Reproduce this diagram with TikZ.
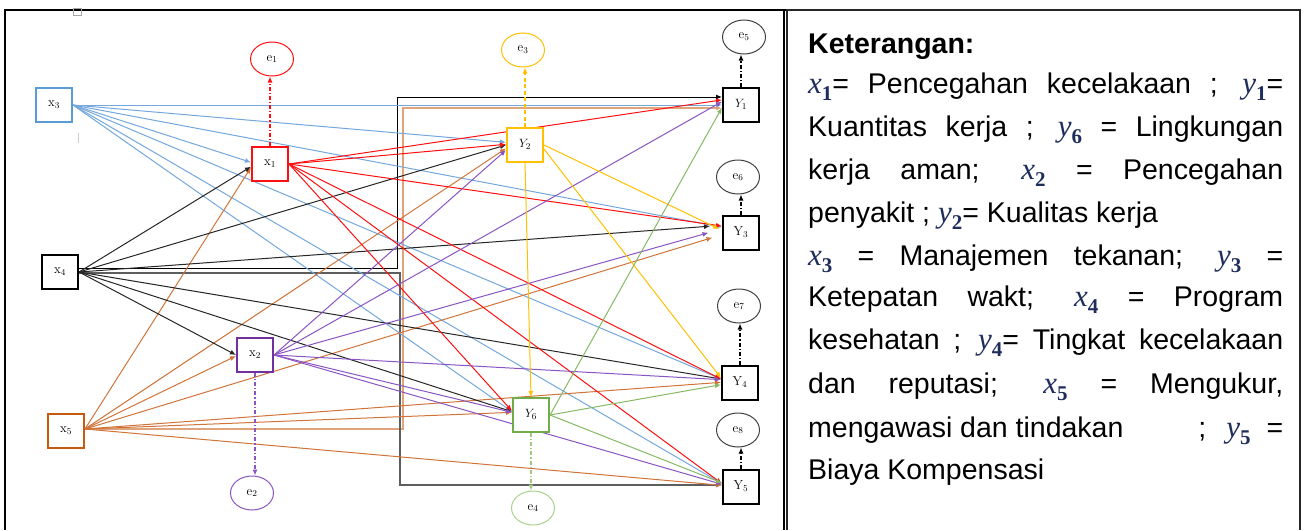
\documentclass[tikz,border=0pt]{standalone}
\usepackage{fontspec}
\newfontfamily\arialf{Liberation Sans}
\newfontfamily\serff{Liberation Serif}
\usetikzlibrary{arrows.meta,shapes.geometric}
\pgfdeclarelayer{bg}
\pgfsetlayers{bg,main}
\definecolor{cblue}{HTML}{5B9BD5}
\definecolor{cbluel}{HTML}{74A7DC}
\definecolor{cred}{HTML}{FF1010}
\definecolor{corange}{HTML}{C55A11}
\definecolor{corangel}{HTML}{D0743A}
\definecolor{corangep}{HTML}{E0A47C}
\definecolor{cpurple}{HTML}{7030A0}
\definecolor{cpurplel}{HTML}{8A55C2}
\definecolor{cgold}{HTML}{FFC000}
\definecolor{cgreen}{HTML}{70AD47}
\definecolor{cgreenl}{HTML}{A9D18E}
\definecolor{cgrayd}{HTML}{5E5E5E}
\definecolor{cegray}{HTML}{404040}
\definecolor{cnavy}{HTML}{1F2D5C}
\newcommand{\lab}[1]{\raisebox{3pt}{#1}}
\newcommand{\kv}[2]{\textcolor{cnavy}{{\serff\itshape\fontsize{31}{34}\selectfont #1}\raisebox{-7pt}{\serff\bfseries\fontsize{21}{21}\selectfont #2}}}
\begin{document}
\begin{tikzpicture}[x=1pt,y=-1pt,
  box/.style={draw, line width=2pt, minimum width=36pt, minimum height=34pt, inner sep=0pt, fill=white, font=\fontsize{13}{15}\selectfont},
  err/.style={draw, ellipse, line width=1pt, minimum width=43pt, minimum height=34pt, inner sep=0pt, fill=white, font=\fontsize{13}{15}\selectfont},
  edge/.style={line width=1pt, -{Latex[length=6pt,width=5pt]}},
  errdash/.style={line width=1.1pt, dash pattern=on 4pt off 2pt on 1.2pt off 2pt, -{Latex[length=6pt,width=5pt]}},
  txt/.style={anchor=base west, inner sep=0pt, font=\arialf\fontsize{28.5}{34}\selectfont}
]
\useasboundingbox (0,0) rectangle (1305,530);

% frames
\draw[line width=2pt] (5,530) -- (5,10) -- (795,10);
\draw[line width=2pt] (784,10) -- (784,530);
\draw[line width=1.2pt, black!85] (787,530) -- (787,10) -- (1300,10) -- (1300,530);
\draw[black!35, line width=0.8pt] (73,8) rectangle (81,15);
\draw[black!20, line width=0.8pt] (78,133) -- (78,143);

% observed variables
\node[box, draw=cblue] (x3) at (54,105) {\lab{$\mathrm{x}_3$}};
\node[box, draw=black] (x4) at (60,272) {\lab{$\mathrm{x}_4$}};
\node[box, draw=corange] (x5) at (66,431) {\lab{$\mathrm{x}_5$}};
\node[box, draw=cred] (x1) at (270,164) {\lab{$\mathrm{x}_1$}};
\node[box, draw=cpurple] (x2) at (255,355) {\lab{$\mathrm{x}_2$}};
\node[box, draw=cgold] (Y2) at (525,145) {\lab{$Y_2$}};
\node[box, draw=cgreen] (Y6) at (531,415) {\lab{$Y_6$}};
\node[box] (Y1) at (741,105) {\lab{$Y_1$}};
\node[box] (Y3) at (741,233) {\lab{$\mathrm{Y}_3$}};
\node[box] (Y4) at (740,383) {\lab{$\mathrm{Y}_4$}};
\node[box] (Y5) at (741,487) {\lab{$\mathrm{Y}_5$}};
% errors
\node[err, draw=cred] (e1) at (272,59) {$\mathrm{e}_1$};
\node[err, draw=cpurplel] (e2) at (252,493) {$\mathrm{e}_2$};
\node[err, draw=cgold] (e3) at (523,50) {$\mathrm{e}_3$};
\node[err, draw=cgreenl] (e4) at (533,508) {$\mathrm{e}_4$};
\node[err, draw=cegray] (e5) at (744,37) {$\mathrm{e}_5$};
\node[err, draw=cegray] (e6) at (738,177) {$\mathrm{e}_6$};
\node[err, draw=cegray] (e7) at (739,306) {$\mathrm{e}_7$};
\node[err, draw=cegray] (e8) at (738,430) {$\mathrm{e}_8$};

\coordinate (r1) at (397,97);
\coordinate (r2) at (400,485);
\coordinate (r3) at (403,108);

\begin{pgfonlayer}{bg}
% routed paths
\draw[edge, corangep, line width=1.8pt] ([yshift=2pt]x5.east) -| (r3) -- (r3 -| Y1.west);
\draw[edge, cgrayd, line width=1.6pt] ([yshift=-1pt]x4.east) -| (r2) -- (r2 -| Y5.west);
\draw[edge, black] ([yshift=4pt]x4.east) -| (r1) -- (r1 -| Y1.west);
% x3 (blue)
\foreach \t in {x1.175, Y1.west, Y2.172, Y3.163, Y4.168, Y5.170, Y6.170}
  \draw[edge, cbluel] (x3.east) -- (\t);
% x5 (orange)
\foreach \t in {x1.190, Y2.190, x2.183, Y4.178, Y6.172, Y5.175}
  \draw[edge, corangel] ([yshift=2pt]x5.east) -- (\t);
\draw[edge, corangel, shorten >=10pt] ([yshift=2pt]x5.east) -- (Y3.185);
% x4 (black)
\foreach \t in {x1.188, Y2.180, x2.west, Y4.168, Y6.170}
  \draw[edge, black!85] (x4.east) -- (\t);
\draw[edge, black!85, shorten >=12pt] (x4.east) -- (Y3.158);
% x1 (red)
\foreach \t in {Y1.165, Y2.178, Y3.160, Y4.168, Y5.170, Y6.168}
  \draw[edge, cred] (x1.east) -- (\t);
% x2 (purple)
\foreach \t in {Y2.195, Y1.170, Y4.170, Y6.172, Y5.172}
  \draw[edge, cpurplel] (x2.east) -- (\t);
\draw[edge, cpurplel, shorten >=14pt] (x2.east) -- (Y3.168);
% Y2 (gold)
\draw[edge, cgold, shorten >=3pt] (Y2.east) -- (Y3.172);
\draw[edge, cgold] (Y2.-12) -- (Y4.165);
\draw[edge, cgold] (Y2.south) -- (Y6.north);
% Y6 (green)
\foreach \t in {Y1.188, Y4.185, Y5.168}
  \draw[edge, cgreen!85] (Y6.east) -- (\t);
% error arrows
\draw[errdash, cred] (x1.north) -- (x1.north |- e1.south);
\draw[errdash, cgold, dash pattern=on 4pt off 2.5pt] (Y2.north) -- (Y2.north |- e3.south);
\draw[errdash, cpurplel] (x2.south) -- (x2.south |- e2.north);
\draw[errdash, cgreenl!80!cgreen] (Y6.south) -- (Y6.south |- e4.north);
\draw[errdash, black] (Y1.north) -- (Y1.north |- e5.south);
\draw[errdash, black] (Y3.north) -- (Y3.north |- e6.south);
\draw[errdash, black] (Y4.north) -- (Y4.north |- e7.south);
\draw[errdash, black] (Y5.north) -- (Y5.north |- e8.south);
\end{pgfonlayer}

% legend text
\node[txt, font=\arialf\bfseries\fontsize{28.5}{34}\selectfont] (t1) at (808,53) {Keterangan:};
\node[txt] (t2) at (808,93) {\makebox[475pt][s]{\kv{x}{1}= Pencegahan kecelakaan ; \kv{y}{1}=}};
\node[txt] (t3) at (808,136) {\makebox[475pt][s]{Kuantitas kerja ; \kv{y}{6} = Lingkungan}};
\node[txt] (t4) at (808,179) {\makebox[475pt][s]{kerja aman; \kv{x}{2} = Pencegahan}};
\node[txt] (t5) at (808,222) {penyakit ; \kv{y}{2}= Kualitas kerja};
\node[txt] (t6) at (808,265) {\makebox[475pt][s]{\kv{x}{3} = Manajemen tekanan; \kv{y}{3} =}};
\node[txt] (t7) at (808,306) {\makebox[475pt][s]{Ketepatan wakt; \kv{x}{4} = Program}};
\node[txt] (t8) at (808,349) {\makebox[475pt][s]{kesehatan ; \kv{y}{4}= Tingkat kecelakaan}};
\node[txt] (t9) at (808,393) {\makebox[475pt][s]{dan reputasi; \kv{x}{5} = Mengukur,}};
\node[txt] (t10) at (808,437) {\makebox[475pt][l]{mengawasi dan tindakan\hfill;\hspace{20pt}\kv{y}{5}\hspace{16pt}=}};
\node[txt] (t11) at (808,479) {Biaya Kompensasi};
\end{tikzpicture}
\end{document}
